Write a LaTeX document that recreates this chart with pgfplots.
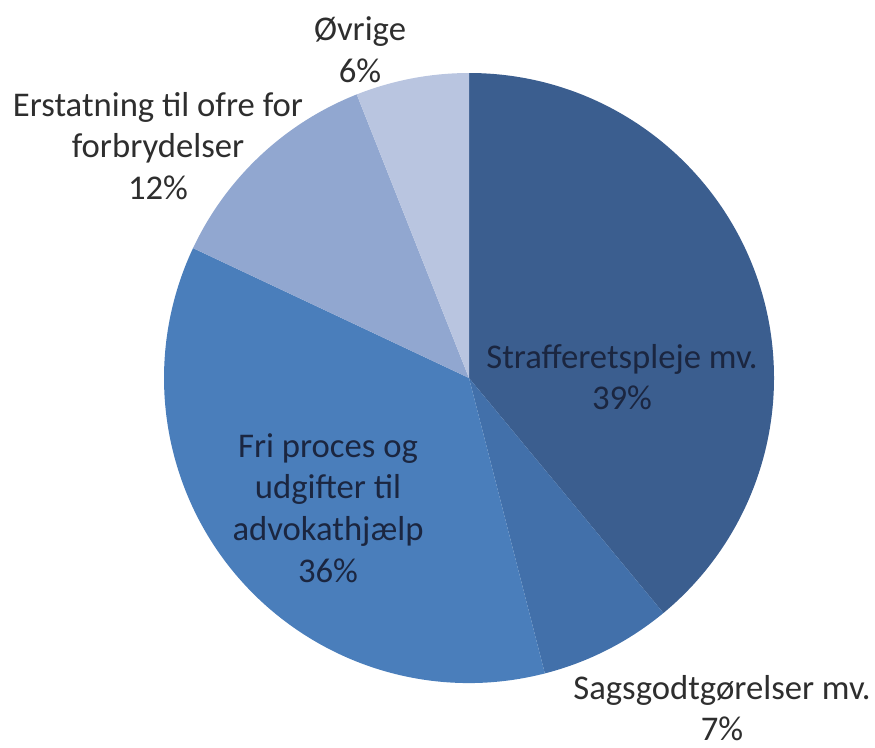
\documentclass[border=0pt]{standalone}
\usepackage{pgfplots}
\usepackage{pgfplotstable}
\pgfplotsset{compat=1.18}
\usepackage{fontspec}
\setmainfont{Carlito}

\definecolor{slice0}{HTML}{3B5E8F}
\definecolor{slice1}{HTML}{4270AA}
\definecolor{slice2}{HTML}{4A7EBB}
\definecolor{slice3}{HTML}{91A7D0}
\definecolor{slice4}{HTML}{B9C5E0}
\definecolor{intext}{HTML}{1B2640}
\definecolor{outtext}{HTML}{2E2E2E}

% shares in percent, clockwise from 12 o'clock
\pgfplotstableread{
share
39
7
36
12
6
}\piedata

\begin{document}
\begin{tikzpicture}
  \begin{axis}[
      scale only axis,
      width=525pt, height=448.2pt,
      xmin=0, xmax=875, ymin=0, ymax=747,
      y dir=reverse,
      hide axis,
      clip=false,
    ]
    \path (axis cs:0,0) (axis cs:875,747);
    \def\startang{90}
    \pgfplotsforeachungrouped \i in {0,...,4}{
      \pgfplotstablegetelem{\i}{share}\of\piedata
      \pgfmathsetmacro\endang{\startang-3.6*\pgfplotsretval}
      \edef\temp{\noexpand\fill[slice\i] (axis cs:469,378) -- ++(\startang:183pt)
        arc[start angle=\startang, end angle=\endang, radius=183pt] -- cycle;}
      \temp
      \global\let\startang\endang
    }
    \begin{scope}[every node/.style={align=center, inner sep=0.5pt, font=\fontsize{20.8}{25}\selectfont}]
      \node[text=outtext] at (axis cs:360,50) {Øvrige\\6\%};
      \node[text=outtext] at (axis cs:158,146) {Erstatning til ofre for\\forbrydelser\\12\%};
      \node[text=intext] at (axis cs:622,377) {Strafferetspleje mv.\\39\%};
      \node[text=intext] at (axis cs:328,508) {Fri proces og\\udgifter til\\advokathjælp\\36\%};
      \node[text=outtext] at (axis cs:722,708) {Sagsgodtgørelser mv.\\7\%};
    \end{scope}
  \end{axis}
\end{tikzpicture}
\end{document}
